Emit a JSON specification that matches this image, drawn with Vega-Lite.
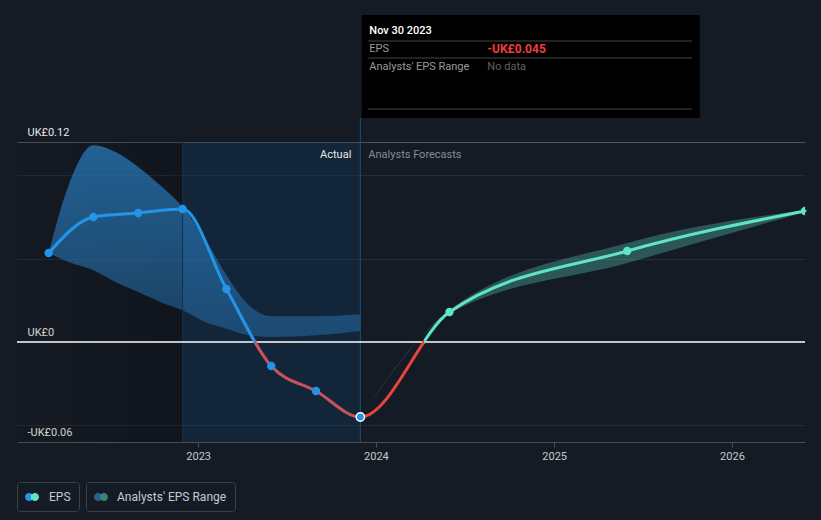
{
  "$schema": "https://vega.github.io/schema/vega-lite/v6.json",
  "width": 788,
  "height": 300,
  "autosize": {"type": "none"},
  "padding": {"left": 17, "top": 142, "right": 16, "bottom": 78},
  "background": "#151b25",
  "config": {"view": {"stroke": null}, "font": "Roboto"},
  "datasets": {
    "one": [{}],
    "eps": [
      {"date": "2022-02-28", "eps": 0.0534, "kind": "Actual"},
      {"date": "2022-05-31", "eps": 0.075, "kind": "Actual"},
      {"date": "2022-08-31", "eps": 0.0774, "kind": "Actual"},
      {"date": "2022-11-30", "eps": 0.0798, "kind": "Actual"},
      {"date": "2023-02-28", "eps": 0.0318, "kind": "Actual"},
      {"date": "2023-05-31", "eps": -0.0144, "kind": "Actual"},
      {"date": "2023-08-31", "eps": -0.0294, "kind": "Actual"},
      {"date": "2023-11-30", "eps": -0.045, "kind": "Actual"},
      {"date": "2024-05-31", "eps": 0.018, "kind": "Forecast"},
      {"date": "2025-05-31", "eps": 0.0546, "kind": "Forecast"},
      {"date": "2026-05-31", "eps": 0.0786, "kind": "Forecast"}
    ],
    "pastRange": [
      {"date": "2022-02-28", "lo": 0.0534, "hi": 0.0534},
      {"date": "2022-04-10", "lo": 0.048, "hi": 0.094},
      {"date": "2022-05-31", "lo": 0.043, "hi": 0.118},
      {"date": "2022-07-15", "lo": 0.036, "hi": 0.114},
      {"date": "2022-08-31", "lo": 0.03, "hi": 0.105},
      {"date": "2022-10-15", "lo": 0.024, "hi": 0.094},
      {"date": "2022-11-30", "lo": 0.019, "hi": 0.081},
      {"date": "2023-01-15", "lo": 0.012, "hi": 0.062},
      {"date": "2023-02-28", "lo": 0.008, "hi": 0.04},
      {"date": "2023-04-15", "lo": 0.004, "hi": 0.022},
      {"date": "2023-05-31", "lo": 0.003, "hi": 0.0155},
      {"date": "2023-08-31", "lo": 0.004, "hi": 0.0155},
      {"date": "2023-11-30", "lo": 0.0066, "hi": 0.0165}
    ],
    "fcRange": [
      {"date": "2023-11-30", "lo": -0.045, "hi": -0.045},
      {"date": "2024-05-31", "lo": 0.017, "hi": 0.019},
      {"date": "2025-05-31", "lo": 0.0474, "hi": 0.0594},
      {"date": "2026-05-31", "lo": 0.078, "hi": 0.0792}
    ]
  },
  "layer": [
    {
      "data": {"name": "pastRange"},
      "mark": {"type": "area", "interpolate": "monotone", "color": "#2b87d0", "opacity": 0},
      "encoding": {
        "x": {
          "field": "date", "type": "temporal",
          "scale": {"type": "utc", "domain": [{"year": 2021, "month": 12, "date": 25, "utc": true}, {"year": 2026, "month": 5, "date": 31, "utc": true}]},
          "axis": {
            "title": null,
            "values": [{"year": 2023, "month": 1, "date": 1, "utc": true}, {"year": 2024, "month": 1, "date": 1, "utc": true}, {"year": 2025, "month": 1, "date": 1, "utc": true}, {"year": 2026, "month": 1, "date": 1, "utc": true}],
            "format": "%Y",
            "grid": false,
            "domainColor": "#474c55",
            "tickColor": "#474c55",
            "tickSize": 5,
            "labelColor": "#c8c8c8",
            "labelFont": "Roboto",
            "labelFontSize": 11,
            "labelPadding": 3,
            "labelFlush": false
          }
        },
        "y": {
          "field": "hi", "type": "quantitative",
          "scale": {"domain": [-0.06, 0.12], "nice": false, "zero": false},
          "axis": {
            "title": null,
            "values": [-0.06, -0.05, 0, 0.05, 0.1, 0.12],
            "domain": false,
            "ticks": false,
            "tickSize": 0,
            "grid": true,
            "gridColor": {"condition": {"test": "datum.value === 0.12", "value": "#50555e"}, "value": "#262c37"},
            "gridOpacity": {"condition": {"test": "datum.value === 0 || datum.value === -0.06", "value": 0}, "value": 1},
            "labelAlign": "left",
            "labelPadding": -10,
            "labelBaseline": "alphabetic",
            "labelOffset": -7,
            "labelColor": "#e6e6e6",
            "labelFont": "Roboto",
            "labelFontSize": 11,
            "labelOverlap": false,
            "labelBound": false,
            "labelFlush": false,
            "labelExpr": "datum.value === 0.12 ? 'UK£0.12' : datum.value === 0 ? 'UK£0' : datum.value === -0.06 ? '-UK£0.06' : ''"
          }
        },
        "y2": {"field": "lo"}
      }
    },
    {
      "data": {"name": "one"},
      "mark": {"type": "rect", "fill": {"gradient": "linear", "x1": 0, "y1": 0, "x2": 1, "y2": 0, "stops": [{"offset": 0, "color": "rgba(0,0,0,0.08)"}, {"offset": 1, "color": "rgba(0,0,0,0.2)"}]}},
      "encoding": {
        "x": {"datum": {"year": 2021, "month": 12, "date": 25, "utc": true}, "type": "temporal"},
        "x2": {"datum": {"year": 2022, "month": 11, "date": 30, "utc": true}}
      }
    },
    {
      "data": {"name": "one"},
      "mark": {"type": "rect", "fill": "#12406b", "opacity": 0.3},
      "encoding": {
        "x": {"datum": {"year": 2022, "month": 11, "date": 30, "utc": true}, "type": "temporal"},
        "x2": {"datum": {"year": 2023, "month": 11, "date": 30, "utc": true}}
      }
    },
    {
      "data": {"name": "pastRange"},
      "mark": {"type": "area", "interpolate": "monotone", "fill": {"gradient": "linear", "x1": 0, "y1": 0, "x2": 0, "y2": 1, "stops": [{"offset": 0, "color": "rgba(43,135,208,0.66)"}, {"offset": 1, "color": "rgba(43,135,208,0.38)"}]}},
      "encoding": {
        "x": {"field": "date", "type": "temporal"},
        "y": {"field": "hi", "type": "quantitative"},
        "y2": {"field": "lo"}
      }
    },
    {
      "data": {"name": "one"},
      "mark": {"type": "rule", "color": "#1a3048", "strokeWidth": 1},
      "encoding": {
        "x": {"datum": {"year": 2022, "month": 11, "date": 30, "utc": true}, "type": "temporal"}
      }
    },
    {
      "data": {"name": "one"},
      "mark": {"type": "rule", "color": "#1f4d72", "strokeWidth": 1},
      "encoding": {
        "x": {"datum": {"year": 2023, "month": 11, "date": 30, "utc": true}, "type": "temporal"},
        "y": {"datum": 0.1344},
        "y2": {"datum": -0.06}
      }
    },
    {
      "data": {"name": "fcRange"},
      "mark": {"type": "area", "interpolate": "monotone", "color": "#5fe3c9", "opacity": 0.3},
      "encoding": {
        "x": {"field": "date", "type": "temporal"},
        "y": {"field": "hi", "type": "quantitative"},
        "y2": {"field": "lo"}
      }
    },
    {
      "data": {"name": "one"},
      "mark": {"type": "rule", "color": "#ffffff", "strokeWidth": 1.5},
      "encoding": {"y": {"datum": 0}}
    },
    {
      "data": {"name": "eps"},
      "mark": {
        "type": "line", "interpolate": "monotone", "strokeWidth": 3, "strokeCap": "round",
        "stroke": {"gradient": "linear", "x1": 0, "y1": 0, "x2": 1, "y2": 0, "stops": [
          {"offset": 0, "color": "#2394e8"},
          {"offset": 0.2728, "color": "#2394e8"},
          {"offset": 0.2728, "color": "#c8525c"},
          {"offset": 0.4123, "color": "#c8525c"},
          {"offset": 0.4123, "color": "#e8433f"},
          {"offset": 0.4963, "color": "#e8433f"},
          {"offset": 0.4963, "color": "#5fe3c9"},
          {"offset": 1, "color": "#5fe3c9"}
        ]}
      },
      "encoding": {
        "x": {"field": "date", "type": "temporal"},
        "y": {"field": "eps", "type": "quantitative"}
      }
    },
    {
      "data": {"name": "eps"},
      "mark": {"type": "point", "filled": true, "size": 70, "opacity": 1, "clip": true},
      "encoding": {
        "x": {"field": "date", "type": "temporal"},
        "y": {"field": "eps", "type": "quantitative"},
        "fill": {"field": "kind", "type": "nominal", "scale": {"domain": ["Actual", "Forecast"], "range": ["#2394e8", "#5fe3c9"]}, "legend": null},
        "stroke": {"condition": {"test": "datum.eps === -0.045", "value": "#ffffff"}, "value": null},
        "strokeWidth": {"condition": {"test": "datum.eps === -0.045", "value": 1.5}, "value": 0}
      }
    },
    {
      "data": {"name": "one"},
      "mark": {"type": "text", "text": "Actual", "align": "right", "baseline": "middle", "dx": -9, "dy": 1, "fontSize": 11, "color": "#e8e8e8", "font": "Roboto"},
      "encoding": {
        "x": {"datum": {"year": 2023, "month": 11, "date": 30, "utc": true}, "type": "temporal"},
        "y": {"datum": 0.1128}
      }
    },
    {
      "data": {"name": "one"},
      "mark": {"type": "text", "text": "Analysts Forecasts", "align": "left", "baseline": "middle", "dx": 8, "dy": 1, "fontSize": 11, "color": "#878c94", "font": "Roboto"},
      "encoding": {
        "x": {"datum": {"year": 2023, "month": 11, "date": 30, "utc": true}, "type": "temporal"},
        "y": {"datum": 0.1128}
      }
    },
    {
      "data": {"name": "one"},
      "mark": {"type": "rect", "fill": "#000000"},
      "encoding": {
        "x": {"datum": {"year": 2023, "month": 12, "date": 3, "utc": true}, "type": "temporal"},
        "x2": {"datum": {"year": 2025, "month": 10, "date": 27, "utc": true}},
        "y": {"datum": 0.1962},
        "y2": {"datum": 0.1344}
      }
    },
    {
      "data": {"name": "one"},
      "mark": {"type": "rule", "color": "#444444", "strokeWidth": 1},
      "encoding": {
        "x": {"datum": {"year": 2023, "month": 12, "date": 15, "utc": true}, "type": "temporal"},
        "x2": {"datum": {"year": 2025, "month": 10, "date": 11, "utc": true}},
        "y": {"datum": 0.1806}
      }
    },
    {
      "data": {"name": "one"},
      "mark": {"type": "rule", "color": "#444444", "strokeWidth": 1},
      "encoding": {
        "x": {"datum": {"year": 2023, "month": 12, "date": 15, "utc": true}, "type": "temporal"},
        "x2": {"datum": {"year": 2025, "month": 10, "date": 11, "utc": true}},
        "y": {"datum": 0.1704}
      }
    },
    {
      "data": {"name": "one"},
      "mark": {"type": "rule", "color": "#444444", "strokeWidth": 1},
      "encoding": {
        "x": {"datum": {"year": 2023, "month": 12, "date": 15, "utc": true}, "type": "temporal"},
        "x2": {"datum": {"year": 2025, "month": 10, "date": 11, "utc": true}},
        "y": {"datum": 0.1398}
      }
    },
    {
      "data": {"name": "one"},
      "mark": {"type": "text", "text": "Nov 30 2023", "align": "left", "baseline": "middle", "dx": 9, "fontSize": 11, "fontWeight": 500, "color": "#ffffff", "font": "Roboto"},
      "encoding": {
        "x": {"datum": {"year": 2023, "month": 11, "date": 30, "utc": true}, "type": "temporal"},
        "y": {"datum": 0.1866}
      }
    },
    {
      "data": {"name": "one"},
      "mark": {"type": "text", "text": "EPS", "align": "left", "baseline": "middle", "dx": 9, "fontSize": 11, "color": "#9a9a9a", "font": "Roboto"},
      "encoding": {
        "x": {"datum": {"year": 2023, "month": 11, "date": 30, "utc": true}, "type": "temporal"},
        "y": {"datum": 0.1758}
      }
    },
    {
      "data": {"name": "one"},
      "mark": {"type": "text", "text": "-UK£0.045", "align": "left", "baseline": "middle", "dx": 127, "fontSize": 12, "fontWeight": "bold", "color": "#f03d3d", "font": "Roboto"},
      "encoding": {
        "x": {"datum": {"year": 2023, "month": 11, "date": 30, "utc": true}, "type": "temporal"},
        "y": {"datum": 0.1758}
      }
    },
    {
      "data": {"name": "one"},
      "mark": {"type": "text", "text": "Analysts' EPS Range", "align": "left", "baseline": "middle", "dx": 9, "fontSize": 11, "color": "#9a9a9a", "font": "Roboto"},
      "encoding": {
        "x": {"datum": {"year": 2023, "month": 11, "date": 30, "utc": true}, "type": "temporal"},
        "y": {"datum": 0.165}
      }
    },
    {
      "data": {"name": "one"},
      "mark": {"type": "text", "text": "No data", "align": "left", "baseline": "middle", "dx": 127, "fontSize": 11, "color": "#606060", "font": "Roboto"},
      "encoding": {
        "x": {"datum": {"year": 2023, "month": 11, "date": 30, "utc": true}, "type": "temporal"},
        "y": {"datum": 0.165}
      }
    },
    {
      "data": {"name": "one"},
      "mark": {"type": "point", "size": 0, "filled": true, "color": {"gradient": "linear", "x1": 0, "y1": 0, "x2": 1, "y2": 0, "stops": [{"offset": 0, "color": "#2394e8"}, {"offset": 0.43, "color": "#2394e8"}, {"offset": 0.43, "color": "#5fe3c9"}, {"offset": 1, "color": "#5fe3c9"}]}},
      "encoding": {
        "shape": {
          "datum": "EPS",
          "scale": {"domain": ["EPS"], "range": ["M-1,0A0.571,0.571,0,1,0,0.143,0A0.571,0.571,0,1,0,-1,0Z M-0.143,0A0.571,0.571,0,1,0,1,0A0.571,0.571,0,1,0,-0.143,0Z"]},
          "legend": {
            "title": null, "orient": "none", "legendX": 0, "legendY": 340,
            "strokeColor": "#3b4049", "padding": 8, "cornerRadius": 3,
            "labelColor": "#c5c9cf", "labelFont": "Roboto", "labelFontSize": 12, "labelOffset": 10,
            "symbolSize": 196, "symbolStrokeWidth": 0, "symbolOpacity": 1
          }
        }
      }
    },
    {
      "data": {"name": "one"},
      "mark": {"type": "point", "size": 0, "filled": true, "color": {"gradient": "linear", "x1": 0, "y1": 0, "x2": 1, "y2": 0, "stops": [{"offset": 0, "color": "#28608f"}, {"offset": 0.43, "color": "#28608f"}, {"offset": 0.43, "color": "#3a827a"}, {"offset": 1, "color": "#3a827a"}]}},
      "encoding": {
        "shape": {
          "datum": "Analysts' EPS Range",
          "scale": {"domain": ["Analysts' EPS Range"], "range": ["M-1,0A0.571,0.571,0,1,0,0.143,0A0.571,0.571,0,1,0,-1,0Z M-0.143,0A0.571,0.571,0,1,0,1,0A0.571,0.571,0,1,0,-0.143,0Z"]},
          "legend": {
            "title": null, "orient": "none", "legendX": 69, "legendY": 340,
            "strokeColor": "#3b4049", "padding": 8, "cornerRadius": 3,
            "labelColor": "#c5c9cf", "labelFont": "Roboto", "labelFontSize": 12, "labelOffset": 9,
            "symbolSize": 196, "symbolStrokeWidth": 0, "symbolOpacity": 1
          }
        }
      }
    }
  ],
  "resolve": {"scale": {"shape": "independent"}, "legend": {"shape": "independent"}}
}
